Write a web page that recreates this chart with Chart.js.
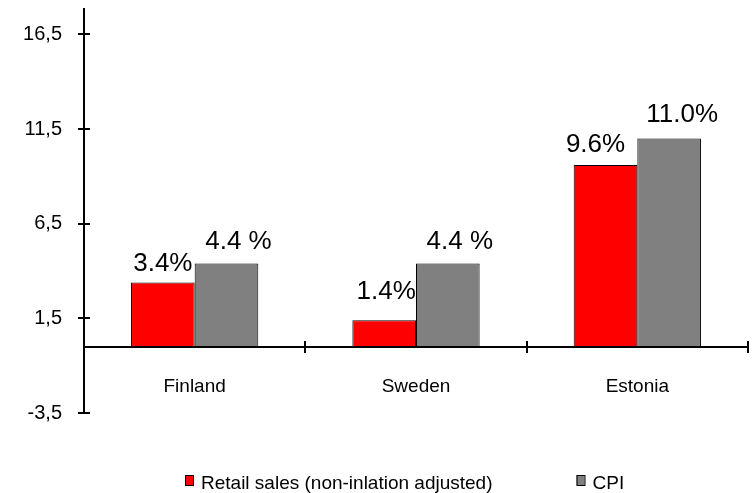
<!DOCTYPE html>
<html>
<head>
<meta charset="utf-8">
<script src="https://cdn.jsdelivr.net/npm/chart.js@4.4.0/dist/chart.umd.min.js"></script>
<style>
  html, body { margin: 0; padding: 0; background: #fff; }
</style>
</head>
<body>
<canvas id="myChart" width="752" height="493"></canvas>
<script>
const countries = ['Finland', 'Sweden', 'Estonia']
const retailSales = [3.4, 1.4, 9.6]
const cpi = [4.4, 4.4, 11.0]
const retailLabels = ['3.4%', '1.4%', '9.6%']
const cpiLabels = ['4.4 %', '4.4 %', '11.0%']
const yTicks = [-3.5, 1.5, 6.5, 11.5, 16.5]
const seriesNames = ['Retail sales (non-inlation adjusted)', 'CPI']

const FONT = '"Liberation Sans", Arial, sans-serif'

// label offsets (dx, gap above bar) per dataset / category
const labelNudge = [
    [[0, 11], [2, 21], [-10, 13]],
    [[12, 14], [12, 14], [13, 17]]
]

// axis lines drawn by hand: y axis with crossing ticks, x axis at zero
const axesPlugin = {
    id: 'axes',
    afterDatasetsDraw(chart) {
        const { ctx, chartArea: a, scales: { x, y } } = chart
        const y0 = Math.round(y.getPixelForValue(0))
        ctx.save()
        ctx.strokeStyle = '#000'
        ctx.lineWidth = 2
        ctx.beginPath()
        ctx.moveTo(a.left, a.top)
        ctx.lineTo(a.left, a.bottom)
        yTicks.forEach(v => {
            const py = Math.round(y.getPixelForValue(v))
            ctx.moveTo(a.left - 6, py)
            ctx.lineTo(a.left + 6, py)
        })
        ctx.moveTo(a.left, y0)
        ctx.lineTo(a.right, y0)
        for (let i = 0; i <= countries.length; i++) {
            const px = Math.round(x.getPixelForValue(i - 0.5))
            ctx.moveTo(px, y0 - 6)
            ctx.lineTo(px, y0 + 6)
        }
        ctx.stroke()

        // category names under the zero line
        ctx.fillStyle = '#000'
        ctx.font = '19px ' + FONT
        ctx.textAlign = 'center'
        ctx.textBaseline = 'alphabetic'
        countries.forEach((c, i) => {
            ctx.fillText(c, x.getPixelForValue(i), y0 + 45)
        })

        // value labels
        ctx.font = '26px ' + FONT
        const texts = [retailLabels, cpiLabels]
        chart.data.datasets.forEach((ds, d) => {
            chart.getDatasetMeta(d).data.forEach((bar, i) => {
                const [dx, gap] = labelNudge[d][i]
                ctx.fillText(texts[d][i], bar.x + dx, bar.y - gap)
            })
        })
        ctx.restore()
    },
    afterDraw(chart) {
        // legend along the bottom
        const { ctx } = chart
        ctx.save()
        ctx.font = '19px ' + FONT
        ctx.textBaseline = 'alphabetic'
        ctx.textAlign = 'left'
        let lx = 185
        chart.data.datasets.forEach(ds => {
            ctx.fillStyle = ds.backgroundColor
            ctx.fillRect(lx, 475, 8, 10)
            ctx.strokeStyle = '#000'
            ctx.lineWidth = 1
            ctx.strokeRect(lx + 0.5, 475.5, 8, 10)
            ctx.fillStyle = '#000'
            ctx.fillText(ds.label, lx + 16, 489)
            lx += 16 + ctx.measureText(ds.label).width + 84
        })
        ctx.restore()
    }
}

const ctx = document.getElementById('myChart').getContext('2d')

const myChart = new Chart(ctx, {
    type: 'bar',
    data: {
        labels: countries,
        datasets: [{
            label: seriesNames[0],
            data: retailSales,
            backgroundColor: '#FF0000',
            borderColor: '#000000',
            borderWidth: 1
        }, {
            label: seriesNames[1],
            data: cpi,
            backgroundColor: '#808080',
            borderColor: '#000000',
            borderWidth: 1
        }]
    },
    options: {
        responsive: false,
        animation: false,
        layout: { padding: { left: 0, top: 8, right: 4, bottom: 80 } },
        datasets: {
            bar: { barPercentage: 1, categoryPercentage: 0.575 }
        },
        plugins: {
            legend: { display: false },
            tooltip: { enabled: false }
        },
        scales: {
            x: {
                display: false
            },
            y: {
                min: -3.5,
                max: 17.9,
                grid: { display: false, drawTicks: false },
                border: { display: false },
                afterFit: s => {
                    s.width = 84
                    s.paddingTop = 0
                    s.paddingBottom = 0
                },
                afterBuildTicks: s => { s.ticks = yTicks.map(v => ({ value: v })) },
                ticks: {
                    color: '#000',
                    padding: 22,
                    font: { family: FONT, size: 20 },
                    callback: v => String(v).replace('.', ',')
                }
            }
        }
    },
    plugins: [axesPlugin]
})
</script>
</body>
</html>
